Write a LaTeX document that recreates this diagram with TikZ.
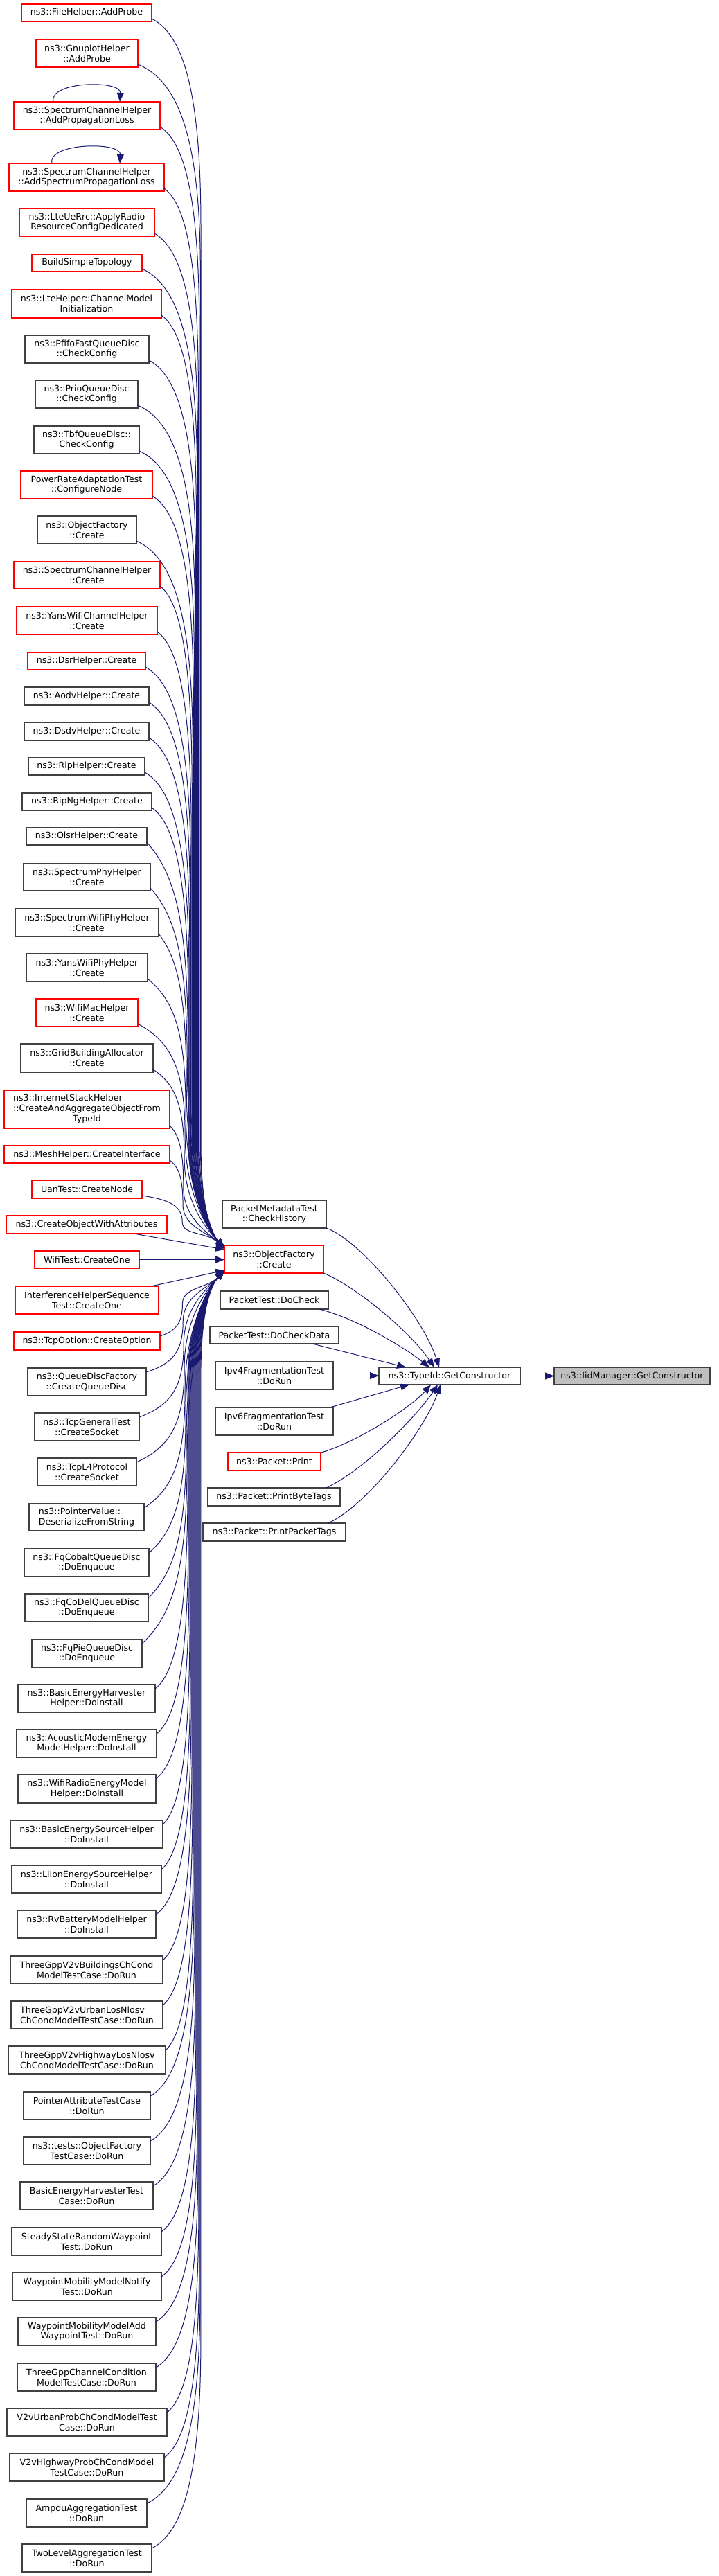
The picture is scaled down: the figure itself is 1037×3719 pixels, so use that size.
\documentclass[tikz,border=0pt]{standalone}
\usepackage{fontspec}
\setmainfont{DejaVu Sans}
\usetikzlibrary{arrows.meta}
\definecolor{mblue}{HTML}{191970}
\definecolor{redb}{HTML}{FF0000}
\definecolor{greyb}{HTML}{404040}
\definecolor{rootfill}{HTML}{BFBFBF}
\tikzset{
  box/.style={draw, fill=white, inner sep=0pt, outer sep=0pt, align=center, line width=1.1pt,
    font=\fontsize{12.6}{14.7}\selectfont},
  rb/.style={draw=redb},
  kb/.style={draw=greyb},
  rootb/.style={draw=greyb, fill=rootfill},
  e/.style={draw=mblue, line width=1pt, -{Triangle[length=13pt,width=10pt]}},
}
\newcommand\nd[7]{%
  \node[box,#6,minimum width={(#4-#2)*1pt},minimum height={(#5-#3)*1pt}] (#1) at ({(#2+#4)/2},{(#3+#5)/2}) {#7};}
% upper edge: name, sx, sy, ty
\newcommand\up[4]{%
  \pgfmathsetmacro\myd{#4-#3}%
  \pgfmathsetmacro\myxb{262+28*min(1,\myd/1750)}%
  \pgfmathsetmacro\mycx{#2+0.7*(\myxb-#2)}%
  \ifdim\myd pt>600pt
    \draw[e] ([yshift=4pt]#1.south east) .. controls (\mycx,#3+25) and (\myxb,#3+120) .. (\myxb,#3+300) -- (\myxb,#4-150) .. controls (\myxb,#4-80) and (299,#4-25) .. ([yshift={(1798-#4)*1pt}]ofc.north west);
  \else
    \pgfmathsetmacro\mym{#3+0.5*\myd}%
    \draw[e] ([yshift=4pt]#1.south east) .. controls (\mycx,#3+0.08*\myd) and (\myxb,\mym-0.3*\myd) .. (\myxb,\mym) .. controls (\myxb,\mym+0.25*\myd) and (299,#4-25) .. ([yshift={(1798-#4)*1pt}]ofc.north west);
  \fi}
% lower edge: name, sx, sy, ty
\newcommand\lo[4]{%
  \pgfmathsetmacro\myd{#3-#4}%
  \pgfmathsetmacro\myxb{262+28*min(1,\myd/1850)}%
  \pgfmathsetmacro\mycx{#2+0.7*(\myxb-#2)}%
  \ifdim\myd pt>600pt
    \draw[e] ([yshift=-6pt]#1.north east) .. controls (\mycx,#3-25) and (\myxb,#3-120) .. (\myxb,#3-300) -- (\myxb,#4+150) .. controls (\myxb,#4+80) and (299,#4+25) .. ([yshift={(1838-#4)*1pt}]ofc.south west);
  \else
    \pgfmathsetmacro\mym{#3-0.5*\myd}%
    \draw[e] ([yshift=-6pt]#1.north east) .. controls (\mycx,#3-0.08*\myd) and (\myxb,\mym+0.3*\myd) .. (\myxb,\mym) .. controls (\myxb,\mym-0.25*\myd) and (299,#4+25) .. ([yshift={(1838-#4)*1pt}]ofc.south west);
  \fi}
\begin{document}
\begin{tikzpicture}[x=1pt,y=-1pt]
\path[use as bounding box, fill=white] (0,0) rectangle (1037,3719);
% left column
\nd{n1}{31}{6}{219}{31}{rb}{ns3::FileHelper::AddProbe}
\nd{n2}{52}{57}{199}{97}{rb}{ns3::GnuplotHelper\\::AddProbe}
\nd{n3}{20}{147}{231}{187}{rb}{ns3::SpectrumChannelHelper\\::AddPropagationLoss}
\nd{n4}{13}{236}{237}{276}{rb}{ns3::SpectrumChannelHelper\\::AddSpectrumPropagationLoss}
\nd{n5}{28}{301}{223}{341}{rb}{ns3::LteUeRrc::ApplyRadio\\ResourceConfigDedicated}
\nd{n6}{46}{367}{205}{392}{rb}{BuildSimpleTopology}
\nd{n7}{17}{418}{233}{459}{rb}{ns3::LteHelper::ChannelModel\\Initialization}
\nd{n8}{36}{484}{215}{524}{kb}{ns3::PfifoFastQueueDisc\\::CheckConfig}
\nd{n9}{51}{549}{199}{589}{kb}{ns3::PrioQueueDisc\\::CheckConfig}
\nd{n10}{49}{615}{201}{655}{kb}{ns3::TbfQueueDisc::\\CheckConfig}
\nd{n11}{30}{680}{220}{720}{rb}{PowerRateAdaptationTest\\::ConfigureNode}
\nd{n12}{54}{745}{197}{785}{kb}{ns3::ObjectFactory\\::Create}
\nd{n13}{20}{811}{231}{850}{rb}{ns3::SpectrumChannelHelper\\::Create}
\nd{n14}{24}{876}{227}{916}{rb}{ns3::YansWifiChannelHelper\\::Create}
\nd{n15}{40}{942}{210}{967}{rb}{ns3::DsrHelper::Create}
\nd{n16}{35}{992}{215}{1018}{kb}{ns3::AodvHelper::Create}
\nd{n17}{35}{1043}{215}{1069}{kb}{ns3::DsdvHelper::Create}
\nd{n18}{41}{1094}{209}{1119}{kb}{ns3::RipHelper::Create}
\nd{n19}{32}{1145}{219}{1170}{kb}{ns3::RipNgHelper::Create}
\nd{n20}{38}{1195}{212}{1220}{kb}{ns3::OlsrHelper::Create}
\nd{n21}{34}{1247}{217}{1286}{kb}{ns3::SpectrumPhyHelper\\::Create}
\nd{n22}{22}{1312}{229}{1352}{kb}{ns3::SpectrumWifiPhyHelper\\::Create}
\nd{n23}{38}{1377}{213}{1417}{kb}{ns3::YansWifiPhyHelper\\::Create}
\nd{n24}{52}{1442}{199}{1482}{rb}{ns3::WifiMacHelper\\::Create}
\nd{n25}{30}{1507}{221}{1548}{kb}{ns3::GridBuildingAllocator\\::Create}
\nd{n26}{6}{1574}{245}{1629}{rb}{\begin{tabular}{@{}l@{}}ns3::InternetStackHelper\\::CreateAndAggregateObjectFrom\\\multicolumn{1}{@{}c@{}}{TypeId}\end{tabular}}
\nd{n27}{6}{1654}{245}{1679}{rb}{ns3::MeshHelper::CreateInterface}
\nd{n28}{46}{1704}{205}{1730}{rb}{UanTest::CreateNode}
\nd{n29}{9}{1755}{241}{1781}{rb}{ns3::CreateObjectWithAttributes}
\nd{n30}{50}{1806}{201}{1831}{rb}{WifiTest::CreateOne}
\nd{n31}{22}{1857}{229}{1897}{rb}{InterferenceHelperSequence\\Test::CreateOne}
\nd{n32}{20}{1923}{231}{1949}{rb}{ns3::TcpOption::CreateOption}
\nd{n33}{40}{1975}{211}{2015}{kb}{ns3::QueueDiscFactory\\::CreateQueueDisc}
\nd{n34}{50}{2040}{201}{2080}{kb}{ns3::TcpGeneralTest\\::CreateSocket}
\nd{n35}{54}{2105}{197}{2145}{kb}{ns3::TcpL4Protocol\\::CreateSocket}
\nd{n36}{42}{2171}{208}{2210}{kb,align=left}{ns3::PointerValue::\\DeserializeFromString}
\nd{n37}{35}{2236}{215}{2276}{kb}{ns3::FqCobaltQueueDisc\\::DoEnqueue}
\nd{n38}{36}{2301}{214}{2341}{kb}{ns3::FqCoDelQueueDisc\\::DoEnqueue}
\nd{n39}{46}{2367}{205}{2407}{kb}{ns3::FqPieQueueDisc\\::DoEnqueue}
\nd{n40}{26}{2432}{224}{2472}{kb}{ns3::BasicEnergyHarvester\\Helper::DoInstall}
\nd{n41}{24}{2497}{226}{2537}{kb}{ns3::AcousticModemEnergy\\ModelHelper::DoInstall}
\nd{n42}{26}{2562}{225}{2603}{kb}{ns3::WifiRadioEnergyModel\\Helper::DoInstall}
\nd{n43}{15}{2628}{235}{2668}{kb}{ns3::BasicEnergySourceHelper\\::DoInstall}
\nd{n44}{17}{2693}{233}{2733}{kb}{ns3::LiIonEnergySourceHelper\\::DoInstall}
\nd{n45}{25}{2758}{225}{2798}{kb}{ns3::RvBatteryModelHelper\\::DoInstall}
\nd{n46}{15}{2824}{235}{2864}{kb}{ThreeGppV2vBuildingsChCond\\ModelTestCase::DoRun}
\nd{n47}{16}{2889}{235}{2929}{kb,align=left}{ThreeGppV2vUrbanLosNlosv\\ChCondModelTestCase::DoRun}
\nd{n48}{12}{2954}{239}{2994}{kb}{ThreeGppV2vHighwayLosNlosv\\ChCondModelTestCase::DoRun}
\nd{n49}{34}{3020}{217}{3060}{kb}{PointerAttributeTestCase\\::DoRun}
\nd{n50}{34}{3085}{217}{3125}{kb}{ns3::tests::ObjectFactory\\TestCase::DoRun}
\nd{n51}{29}{3150}{221}{3190}{kb}{BasicEnergyHarvesterTest\\Case::DoRun}
\nd{n52}{17}{3216}{233}{3256}{kb}{SteadyStateRandomWaypoint\\Test::DoRun}
\nd{n53}{18}{3281}{233}{3321}{kb}{WaypointMobilityModelNotify\\Test::DoRun}
\nd{n54}{26}{3346}{225}{3386}{kb}{WaypointMobilityModelAdd\\WaypointTest::DoRun}
\nd{n55}{25}{3412}{225}{3452}{kb}{ThreeGppChannelCondition\\ModelTestCase::DoRun}
\nd{n56}{10}{3477}{241}{3517}{kb}{V2vUrbanProbChCondModelTest\\Case::DoRun}
\nd{n57}{14}{3542}{237}{3582}{kb}{V2vHighwayProbChCondModel\\TestCase::DoRun}
\nd{n58}{38}{3608}{212}{3648}{kb}{AmpduAggregationTest\\::DoRun}
\nd{n59}{32}{3673}{219}{3713}{kb}{TwoLevelAggregationTest\\::DoRun}
% middle column
\nd{pmt}{321}{1733}{471}{1773}{kb}{PacketMetadataTest\\::CheckHistory}
\nd{ofc}{324}{1798}{467}{1838}{rb}{ns3::ObjectFactory\\::Create}
\nd{dck}{318}{1864}{474}{1890}{kb}{PacketTest::DoCheck}
\nd{dcd}{303}{1915}{489}{1940}{kb}{PacketTest::DoCheckData}
\nd{ip4}{311}{1966}{481}{2006}{kb}{Ipv4FragmentationTest\\::DoRun}
\nd{ip6}{311}{2032}{481}{2072}{kb}{Ipv6FragmentationTest\\::DoRun}
\nd{prt}{329}{2097}{463}{2123}{rb}{ns3::Packet::Print}
\nd{pbt}{300}{2148}{491}{2174}{kb}{ns3::Packet::PrintByteTags}
\nd{ppt}{293}{2199}{499}{2225}{kb}{ns3::Packet::PrintPacketTags}
\nd{tg}{547}{1974}{751}{1999}{kb}{ns3::TypeId::GetConstructor}
\nd{iid}{800}{1974}{1025}{1999}{rootb}{ns3::IidManager::GetConstructor}
% self loops
\draw[e] ([xshift=57pt]n3.north west) .. controls (70,117) and (175,115) .. ([xshift=153pt]n3.north west);
\draw[e] ([xshift=62pt]n4.north west) .. controls (68,206) and (175,204) .. ([xshift=160pt]n4.north west);
% upper edges into ObjectFactory::Create
\up{n1}{219}{27}{1801}
\up{n2}{199}{93}{1801}
\up{n3}{231}{183}{1801}
\up{n4}{237}{272}{1801}
\up{n5}{223}{337}{1801}
\up{n6}{205}{388}{1801}
\up{n7}{233}{455}{1801}
\up{n8}{215}{520}{1801}
\up{n9}{199}{585}{1801}
\up{n10}{201}{651}{1801}
\up{n11}{220}{716}{1801}
\up{n12}{197}{781}{1801}
\up{n13}{231}{846}{1801}
\up{n14}{227}{912}{1801}
\up{n15}{210}{963}{1801}
\up{n16}{215}{1014}{1801}
\up{n17}{215}{1065}{1801}
\up{n18}{209}{1115}{1801}
\up{n19}{219}{1166}{1801}
\up{n20}{212}{1216}{1801}
\up{n21}{217}{1282}{1801}
\up{n22}{229}{1348}{1801}
\up{n23}{213}{1413}{1801}
\up{n24}{199}{1478}{1801}
\up{n25}{221}{1544}{1801}
\up{n26}{245}{1625}{1803}
\up{n27}{245}{1675}{1803}
\up{n28}{205}{1726}{1803}
\draw[e] ([xshift=-48pt]n29.south east) -- ([yshift=-6pt]ofc.north west);
\draw[e] (n30.east) -- (n30.east -| ofc.west);
\draw[e] ([xshift=-11pt]n31.north east) -- ([yshift=4pt]ofc.south west);
% lower edges into ObjectFactory::Create
\lo{n32}{231}{1929}{1835}
\lo{n33}{211}{1981}{1835}
\lo{n34}{201}{2046}{1835}
\lo{n35}{197}{2111}{1835}
\lo{n36}{208}{2177}{1835}
\lo{n37}{215}{2242}{1835}
\lo{n38}{214}{2307}{1835}
\lo{n39}{205}{2373}{1835}
\lo{n40}{224}{2438}{1835}
\lo{n41}{226}{2503}{1835}
\lo{n42}{225}{2568}{1835}
\lo{n43}{235}{2634}{1835}
\lo{n44}{233}{2699}{1835}
\lo{n45}{225}{2764}{1835}
\lo{n46}{235}{2830}{1835}
\lo{n47}{235}{2895}{1835}
\lo{n48}{239}{2960}{1835}
\lo{n49}{217}{3026}{1835}
\lo{n50}{217}{3091}{1835}
\lo{n51}{221}{3156}{1835}
\lo{n52}{233}{3222}{1835}
\lo{n53}{233}{3287}{1835}
\lo{n54}{225}{3352}{1835}
\lo{n55}{225}{3418}{1835}
\lo{n56}{241}{3483}{1835}
\lo{n57}{237}{3548}{1835}
\lo{n58}{212}{3614}{1835}
\lo{n59}{219}{3679}{1835}
% edges into TypeId::GetConstructor
\draw[e] (pmt.south east) .. controls (520,1790) and (610,1900) .. ([xshift=87pt]tg.north west);
\draw[e] (ofc.south east) .. controls (510,1855) and (590,1920) .. ([xshift=80pt]tg.north west);
\draw[e] ([xshift=-13pt]dck.south east) .. controls (520,1905) and (590,1950) .. ([xshift=73pt]tg.north west);
\draw[e] ([xshift=-38pt]dcd.south east) -- ([xshift=39pt]tg.north west);
\draw[e] (ip4.east) -- (ip4.east -| tg.west);
\draw[e] ([xshift=-5pt]ip6.north east) -- ([xshift=44pt]tg.south west);
\draw[e] ([xshift=1pt]prt.north east) .. controls (520,2080) and (595,2030) .. ([xshift=75pt]tg.south west);
\draw[e] ([xshift=-20pt]pbt.north east) .. controls (530,2120) and (605,2040) .. ([xshift=85pt]tg.south west);
\draw[e] ([xshift=-25pt]ppt.north east) .. controls (535,2170) and (615,2060) .. ([xshift=89pt]tg.south west);
\draw[e] (tg.east) -- (tg.east -| iid.west);
\end{tikzpicture}
\end{document}
